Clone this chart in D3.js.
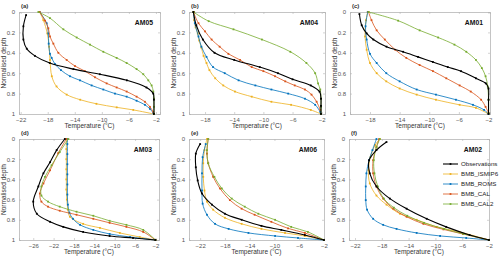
<!DOCTYPE html>
<html>
<head>
<meta charset="UTF-8">
<script src="https://d3js.org/d3.v7.min.js"></script>
<style>
  body { margin: 0; background: #fff; }
  svg { display: block; font-family: "Liberation Sans", Arial, sans-serif; }
  .tick text { font-size: 6px; fill: #555; }
  .axlab { font-size: 6.5px; fill: #333; }
  .site { font-size: 6.8px; font-weight: bold; fill: #111; }
  .plab { font-size: 6px; font-weight: bold; fill: #333; }
  .leg { font-size: 6.2px; fill: #222; }
</style>
</head>
<body>
<svg width="500" height="259"></svg>
<script>
// series names and colours (MATLAB default order)
var seriesNames = ["Observations", "BMB_ISMIP6", "BMB_ROMS", "BMB_CAL", "BMB_CAL2"];
var seriesColors = ["#000000", "#EDB120", "#0072BD", "#D95319", "#77AC30"];

var yTicks = [0, 0.2, 0.4, 0.6, 0.8, 1];
var yTickLabels = ["0", "0.2", "0.4", "0.6", "0.8", "1"];
var xTicks6 = [-22, -18, -14, -10, -6, -2];
var xTicks5 = [-18, -14, -10, -6, -2];
var xTicks7 = [-26, -22, -18, -14, -10, -6, -2];

// [temperature, normalised depth]
// (a) AM05
var am05_obs = [[-21.2,.03],[-21.6,.14],[-21.6,.27],[-21.1,.36],[-19.9,.43],[-17.7,.50],[-14.2,.56],[-10.3,.61],[-6.3,.67],[-3.4,.74],[-2.4,.80],[-2.3,.86],[-2.3,1]];
var am05_ismip6 = [[-19.2,0],[-18.65,.08],[-18.06,.21],[-17.8,.34],[-17.67,.47],[-17.4,.63],[-16.7,.73],[-15.2,.81],[-13.2,.86],[-10.8,.90],[-7.8,.935],[-5.35,.96],[-2.3,1]];
var am05_roms = [[-19.2,0],[-18.16,.11],[-17.91,.21],[-17.86,.31],[-17.67,.41],[-17.42,.45],[-16.93,.51],[-16.04,.57],[-14.71,.63],[-13.23,.67],[-11.51,.72],[-9.78,.76],[-8.06,.80],[-6.33,.83],[-4.86,.87],[-3.63,.91],[-2.89,.95],[-2.39,.99]];
var am05_cal = [[-19.2,0],[-18.4,.085],[-17.91,.16],[-17.67,.24],[-17.17,.31],[-16.43,.40],[-15.2,.47],[-13.97,.53],[-12.49,.58],[-11.01,.64],[-9.29,.70],[-7.81,.74],[-6.33,.78],[-4.86,.83],[-3.63,.88],[-2.89,.93],[-2.39,.98]];
var am05_cal2 = [[-19.39,0],[-17.67,.06],[-15.69,.17],[-13.72,.25],[-11.75,.32],[-9.78,.39],[-7.81,.45],[-6.33,.50],[-4.86,.56],[-3.87,.61],[-3.13,.67],[-2.64,.72],[-2.39,.78],[-2.3,.85],[-2.3,.93],[-2.3,1]];

// (b) AM04
var am04_obs = [[-19.6,0],[-19.2,.13],[-18.3,.27],[-16.7,.40],[-14,.47],[-10.5,.54],[-8,.60],[-6,.66],[-3.5,.72],[-2.3,.78],[-2.1,.85],[-2.1,.92],[-2.1,1]];
var am04_ismip6 = [[-19.5,0],[-19.5,.08],[-19.3,.15],[-19.0,.21],[-18.8,.28],[-18.5,.35],[-18.2,.43],[-17.8,.50],[-17.4,.57],[-16.6,.65],[-15.5,.72],[-13.9,.78],[-11.6,.83],[-8.9,.88],[-6.2,.91],[-3.5,.96],[-2.1,1]];
var am04_roms = [[-19.6,0],[-19.4,.11],[-18.9,.24],[-18.5,.34],[-17.8,.44],[-16.9,.54],[-15.3,.60],[-13.4,.67],[-11.1,.72],[-8.9,.76],[-6.6,.80],[-4.3,.85],[-2.9,.91],[-2.2,.98]];
var am04_cal = [[-19.6,0],[-18.9,.11],[-18,.19],[-17.1,.27],[-16,.34],[-14.8,.41],[-13.2,.47],[-11.6,.54],[-10,.58],[-8.4,.63],[-7,.68],[-5.7,.72],[-4.3,.76],[-3.4,.81],[-2.7,.88],[-2.2,.96]];
var am04_cal2 = [[-19.6,0],[-17.5,.09],[-14.1,.17],[-10.2,.27],[-6.3,.39],[-4.1,.50],[-2.9,.60],[-2.5,.70],[-2.2,.76],[-2.1,.85],[-2.1,.93],[-2.1,1]];

// (c) AM01
var am01_obs = [[-19.43,.02],[-19.12,.13],[-18.45,.21],[-17.55,.27],[-15.77,.34],[-13.53,.39],[-11.52,.44],[-9.51,.49],[-7.5,.54],[-5.71,.58],[-3.7,.65],[-2.36,.70],[-2.0,.75],[-2.0,.86],[-2.0,1]];
var am01_ismip6 = [[-18.3,0],[-18.54,.08],[-18.67,.24],[-18.45,.37],[-18,.50],[-17.1,.60],[-15.8,.68],[-14,.75],[-11.7,.81],[-9.1,.86],[-5.9,.91],[-3.7,.94],[-2,1]];
var am01_roms = [[-18.3,0],[-18.6,.14],[-18.45,.27],[-18,.41],[-17.1,.50],[-15.8,.60],[-14,.68],[-11.7,.76],[-9.1,.81],[-6.4,.86],[-4.1,.91],[-2.6,.96],[-2,1]];
var am01_cal = [[-18.2,0],[-17.8,.08],[-17.1,.18],[-16,.27],[-14.6,.37],[-13.1,.45],[-11.3,.52],[-9.5,.58],[-7.7,.65],[-5.9,.72],[-4.4,.78],[-3.0,.86],[-2.4,.93],[-2,.99]];
var am01_cal2 = [[-18.2,0],[-14.2,.085],[-11.3,.18],[-8.8,.25],[-6.6,.32],[-5,.39],[-3.7,.47],[-2.9,.55],[-2.4,.63],[-2.1,.73],[-2,.86],[-2,.99]];

// (d) AM03
var am03_obs = [[-19.8,0],[-21.4,.11],[-22.7,.23],[-24.0,.34],[-25.0,.47],[-26,.62],[-25.3,.74],[-22.7,.82],[-20.1,.87],[-16.2,.92],[-11,.96],[-6.4,.98],[-2,1]];
var am03_ismip6 = [[-19.5,0],[-19.5,.1],[-19.5,.2],[-19.5,.3],[-19.5,.4],[-19.5,.5],[-19.4,.6],[-19.2,.7],[-18.8,.77],[-16.2,.84],[-12.9,.88],[-9,.93],[-5.1,.97],[-2,1]];
var am03_roms = [[-19.3,0],[-19.3,.05],[-19.3,.15],[-19.3,.25],[-19.3,.35],[-19.3,.45],[-19.3,.55],[-19.2,.65],[-18.9,.73],[-18.2,.79],[-16.8,.85],[-14.2,.9],[-11,.94],[-7,.97],[-2,1]];
var am03_cal = [[-19.5,0],[-21.1,.14],[-22.7,.31],[-24,.44],[-24.7,.54],[-24.4,.62],[-23.1,.67],[-20.8,.71],[-17.5,.75],[-14.2,.79],[-11,.83],[-7.7,.87],[-4.4,.92],[-2,1]];
var am03_cal2 = [[-19.1,0],[-20.8,.13],[-22.4,.26],[-23.7,.375],[-24.4,.47],[-24.4,.56],[-23.1,.62],[-20.8,.67],[-17.5,.72],[-14.2,.76],[-11,.81],[-7.7,.85],[-4.4,.90],[-2,1]];

// (e) AM06
var am06_obs = [[-22,.05],[-22.7,.145],[-22.7,.28],[-22.4,.41],[-21.7,.54],[-20.1,.65],[-18,.74],[-15.3,.80],[-12.1,.86],[-8.9,.90],[-5.1,.95],[-2,1]];
var am06_ismip6 = [[-20.9,0],[-21.3,.11],[-21.5,.24],[-21.5,.375],[-21.3,.51],[-20.9,.62],[-19.9,.70],[-18,.78],[-15.3,.84],[-12.1,.89],[-8.3,.93],[-5.1,.96],[-2,1]];
var am06_roms = [[-21.1,.05],[-21.6,.18],[-21.7,.34],[-21.7,.51],[-21.6,.64],[-20.9,.75],[-19.6,.84],[-17.4,.89],[-14.2,.93],[-9.9,.96],[-6.2,.98],[-2,1]];
var am06_cal = [[-20.7,0],[-20.9,.145],[-20.7,.24],[-19.9,.375],[-18.8,.49],[-17.2,.605],[-15.3,.69],[-13.2,.75],[-10.5,.82],[-7.8,.885],[-5.1,.93],[-2,1]];
var am06_cal2 = [[-20.7,0],[-20.9,.11],[-20.7,.24],[-19.7,.375],[-18.5,.49],[-16.9,.59],[-14.8,.67],[-12.6,.74],[-9.9,.80],[-7.3,.87],[-4.6,.92],[-2,1]];

// (f) AM02
var am02_obs = [[-17.3,.03],[-18.8,.11],[-19.9,.21],[-19.8,.34],[-18.8,.47],[-16.8,.59],[-14.3,.69],[-11.3,.79],[-8.4,.87],[-4.9,.95],[-2,1]];
var am02_ismip6 = [[-18.3,0],[-19.0,.06],[-19.7,.18],[-20,.31],[-19.8,.44],[-18.8,.56],[-17.3,.65],[-15.3,.74],[-12.8,.80],[-9.8,.87],[-6.4,.92],[-2,1]];
var am02_roms = [[-18.8,0],[-19.4,.11],[-19.9,.21],[-20.3,.34],[-20.4,.47],[-20.4,.605],[-20.2,.70],[-19.3,.79],[-17.8,.85],[-15.8,.89],[-12.8,.93],[-9.3,.96],[-5.4,.98],[-2,1]];
var am02_cal = [[-18.4,0],[-18.8,.08],[-19.3,.21],[-19.3,.34],[-18.8,.47],[-17.8,.59],[-16.3,.69],[-14.3,.77],[-11.8,.84],[-8.8,.895],[-5.9,.94],[-2,1]];
var am02_cal2 = [[-18.3,0],[-18.8,.08],[-19.2,.21],[-19.1,.34],[-18.6,.47],[-17.7,.59],[-16.2,.68],[-14.2,.76],[-11.7,.83],[-8.7,.89],[-5.8,.94],[-2,1]];

var panels = [
  {lab: "(a)", site: "AM05", data: [am05_obs, am05_ismip6, am05_roms, am05_cal, am05_cal2], x0: 19, x1: 160, y0: 12, y1: 114, dom: [-22.25, -1.4], ticks: xTicks6},
  {lab: "(b)", site: "AM04", data: [am04_obs, am04_ismip6, am04_roms, am04_cal, am04_cal2], x0: 189, x1: 325, y0: 12, y1: 114, dom: [-20.2, -1.55], ticks: xTicks5},
  {lab: "(c)", site: "AM01", data: [am01_obs, am01_ismip6, am01_roms, am01_cal, am01_cal2], x0: 350, x1: 490, y0: 12, y1: 114, dom: [-20.7, -1.8], ticks: xTicks5},
  {lab: "(d)", site: "AM03", data: [am03_obs, am03_ismip6, am03_roms, am03_cal, am03_cal2], x0: 19, x1: 159, y0: 139, y1: 240, dom: [-28.8, -1.3], ticks: xTicks7},
  {lab: "(e)", site: "AM06", data: [am06_obs, am06_ismip6, am06_roms, am06_cal, am06_cal2], x0: 189, x1: 324, y0: 139, y1: 240, dom: [-23.8, -2], ticks: xTicks6},
  {lab: "(f)", site: "AM02", data: [am02_obs, am02_ismip6, am02_roms, am02_cal, am02_cal2], x0: 349, x1: 489, y0: 139, y1: 240, dom: [-22.9, -2], ticks: xTicks6, legend: true}
];

var svg = d3.select("svg");
var axisCol = "#b5b5b5";
var mk = 1.8; // marker size

panels.forEach(function(p) {
  var x = d3.scaleLinear().domain(p.dom).range([p.x0, p.x1]);
  var y = d3.scaleLinear().domain([0, 1]).range([p.y0, p.y1]);
  var g = svg.append("g");

  // bottom/left axes with labels, top/right mirrored, ticks pointing in
  var xa = g.append("g").attr("transform", "translate(0," + p.y1 + ")")
    .call(d3.axisBottom(x).tickValues(p.ticks).tickSize(-2).tickPadding(4).tickFormat(d3.format("d")));
  var ya = g.append("g").attr("transform", "translate(" + p.x0 + ",0)")
    .call(d3.axisLeft(y).tickValues(yTicks).tickSize(-2).tickPadding(4).tickFormat(function(d, i) { return yTickLabels[i]; }));
  var xt = g.append("g").attr("transform", "translate(0," + p.y0 + ")")
    .call(d3.axisTop(x).tickValues(p.ticks).tickSize(-2).tickFormat(""));
  var yr = g.append("g").attr("transform", "translate(" + p.x1 + ",0)")
    .call(d3.axisRight(y).tickValues(yTicks).tickSize(-2).tickFormat(""));
  [xa, ya, xt, yr].forEach(function(a) {
    a.attr("font-family", null).attr("font-size", null);
    a.select(".domain").attr("stroke", axisCol).attr("stroke-width", 0.8);
    a.selectAll(".tick line").attr("stroke", axisCol).attr("stroke-width", 0.6);
  });

  var line = d3.line()
    .x(function(d) { return x(d[0]); })
    .y(function(d) { return y(d[1]); })
    .curve(d3.curveCatmullRom.alpha(0.5));

  // models first, observations on top
  [1, 2, 3, 4, 0].forEach(function(k) {
    var s = p.data[k];
    g.append("path").datum(s)
      .attr("d", line)
      .attr("fill", "none")
      .attr("stroke", seriesColors[k])
      .attr("stroke-width", k === 0 ? 1.1 : 0.8);
    g.selectAll(".m" + k).data(s).enter().append("rect")
      .attr("x", function(d) { return x(d[0]) - mk / 2; })
      .attr("y", function(d) { return y(d[1]) - mk / 2; })
      .attr("width", mk).attr("height", mk)
      .attr("fill", seriesColors[k]);
  });

  g.append("text").attr("class", "plab").attr("x", p.x0 + 2).attr("y", p.y0 - 4).text(p.lab);
  g.append("text").attr("class", "site").attr("x", p.x1 - 7).attr("y", p.y0 + 13)
    .attr("text-anchor", "end").text(p.site);
  g.append("text").attr("class", "axlab")
    .attr("x", (p.x0 + p.x1) / 2).attr("y", p.y1 + 14)
    .attr("text-anchor", "middle").text("Temperature (°C)");
  g.append("text").attr("class", "axlab")
    .attr("transform", "translate(" + (p.x0 - 13) + "," + ((p.y0 + p.y1) / 2) + ") rotate(-90)")
    .attr("text-anchor", "middle").text("Normalised depth");

  if (p.legend) {
    seriesNames.forEach(function(n, i) {
      var ly = 164 + i * 10;
      g.append("line").attr("x1", 443).attr("x2", 458).attr("y1", ly).attr("y2", ly)
        .attr("stroke", seriesColors[i]).attr("stroke-width", i === 0 ? 1.1 : 0.8);
      g.append("rect").attr("x", 450.5 - mk / 2).attr("y", ly - mk / 2).attr("width", mk).attr("height", mk)
        .attr("fill", seriesColors[i]);
      g.append("text").attr("class", "leg").attr("x", 461).attr("y", ly + 2.1).text(n);
    });
  }
});
</script>
</body>
</html>
